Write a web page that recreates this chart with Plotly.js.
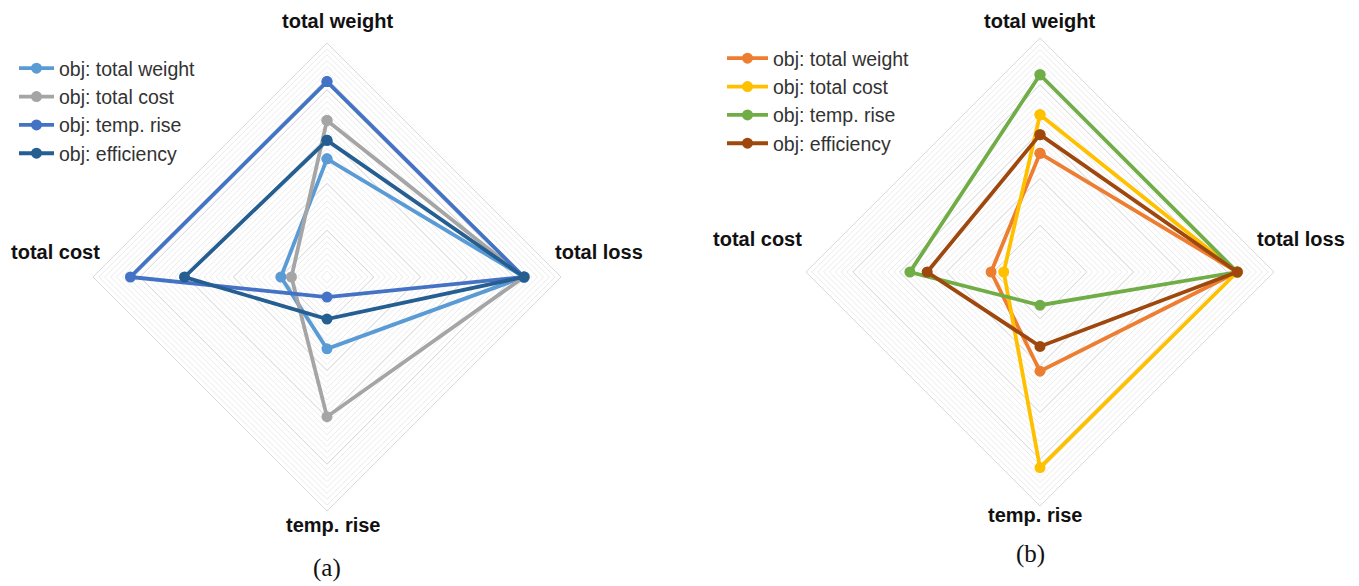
<!DOCTYPE html>
<html>
<head>
<meta charset="utf-8">
<script src="https://cdn.plot.ly/plotly-3.0.1.min.js"></script>
<style>
  html, body { margin: 0; padding: 0; background: #ffffff; }
  #chart { width: 1359px; height: 586px; }
</style>
</head>
<body>
<div id="chart"></div>
<script>
// Radar axes, clockwise from the top
const axes = ['total weight', 'total loss', 'temp. rise', 'total cost'];

// Panel (a): normalised objective values per optimisation target
const namesA = ['obj: total weight', 'obj: total cost', 'obj: temp. rise', 'obj: efficiency'];
const objWeightA = [0.505, 0.842, 0.307, 0.197];
const objCostA   = [0.669, 0.842, 0.597, 0.152];
const objTempA   = [0.835, 0.842, 0.086, 0.840];
const objEffA    = [0.584, 0.842, 0.180, 0.609];
const colorsA = ['#5B9BD5', '#A5A5A5', '#4472C4', '#255E91'];

// Panel (b)
const namesB = ['obj: total weight', 'obj: total cost', 'obj: temp. rise', 'obj: efficiency'];
const objWeightB = [0.507, 0.843, 0.424, 0.209];
const objCostB   = [0.672, 0.843, 0.836, 0.155];
const objTempB   = [0.843, 0.843, 0.142, 0.556];
const objEffB    = [0.587, 0.843, 0.318, 0.482];
const colorsB = ['#ED7D31', '#FFC000', '#70AD47', '#9E480E'];

const W = 1359, H = 586;
const px = x => x / W;
const py = y => 1 - y / H;

function closed(arr) { return arr.concat([arr[0]]); }

function seriesTrace(name, vals, color, subplot, legend) {
  return {
    type: 'scatterpolar',
    subplot: subplot,
    legend: legend,
    legendgroup: legend + name,
    name: name,
    r: closed(vals),
    theta: closed(axes),
    mode: 'lines+markers',
    line: { color: color, width: 3.8 },
    marker: { color: color, size: 11 },
    hoverinfo: 'skip'
  };
}

// invisible carrier so the fine background grid gets its categorical axis
function gridCarrier(subplot) {
  return {
    type: 'scatterpolar', subplot: subplot, r: [0, 0, 0, 0], theta: axes,
    mode: 'markers', marker: { opacity: 0 }, showlegend: false, hoverinfo: 'skip'
  };
}

const traces = [
  gridCarrier('polar'),
  seriesTrace(namesA[0], objWeightA, colorsA[0], 'polar2', 'legend'),
  seriesTrace(namesA[1], objCostA,   colorsA[1], 'polar2', 'legend'),
  seriesTrace(namesA[2], objTempA,   colorsA[2], 'polar2', 'legend'),
  seriesTrace(namesA[3], objEffA,    colorsA[3], 'polar2', 'legend'),
  gridCarrier('polar3'),
  seriesTrace(namesB[0], objWeightB, colorsB[0], 'polar4', 'legend2'),
  seriesTrace(namesB[1], objCostB,   colorsB[1], 'polar4', 'legend2'),
  seriesTrace(namesB[2], objTempB,   colorsB[2], 'polar4', 'legend2'),
  seriesTrace(namesB[3], objEffB,    colorsB[3], 'polar4', 'legend2')
];

const angular = {
  rotation: 90, direction: 'clockwise',
  categoryorder: 'array', categoryarray: axes,
  showgrid: false, showticklabels: false, ticks: '', showline: false
};

function fineGrid(domX, domY) {
  return {
    domain: { x: domX, y: domY },
    bgcolor: '#ffffff',
    gridshape: 'linear',
    radialaxis: { range: [0, 1], tick0: 0, dtick: 0.025, gridcolor: '#ebebeb', gridwidth: 1,
                  showticklabels: false, ticks: '', showline: false },
    angularaxis: angular
  };
}
function mainGrid(domX, domY) {
  return {
    domain: { x: domX, y: domY },
    bgcolor: 'rgba(0,0,0,0)',
    gridshape: 'linear',
    radialaxis: { range: [0, 1], tick0: 0, dtick: 0.2, gridcolor: '#d9d9d9', gridwidth: 1,
                  showticklabels: false, ticks: '', showline: false },
    angularaxis: Object.assign({}, angular, { showline: true, linecolor: '#d9d9d9', linewidth: 1 })
  };
}

const domAx = [px(93), px(561)], domAy = [py(511), py(43)];
const domBx = [px(806), px(1274)], domBy = [py(506), py(38)];

const labelFont = { family: 'Arial, "Liberation Sans", sans-serif', size: 20, color: '#111111', weight: 'bold' };
const capFont = { family: '"Liberation Serif", "Times New Roman", serif', size: 25, color: '#111111' };

function label(text, x, y, font) {
  return { text: text, x: px(x), y: py(y), xref: 'paper', yref: 'paper',
           xanchor: 'center', yanchor: 'middle', showarrow: false, font: font || labelFont };
}

const legendFont = { family: 'Arial, "Liberation Sans", sans-serif', size: 19.5, color: '#333333' };

const layout = {
  width: W, height: H,
  margin: { l: 0, r: 0, t: 0, b: 0 },
  paper_bgcolor: '#ffffff',
  showlegend: true,
  polar: fineGrid(domAx, domAy),
  polar2: mainGrid(domAx, domAy),
  polar3: fineGrid(domBx, domBy),
  polar4: mainGrid(domBx, domBy),
  legend: { x: px(14), y: py(49), xanchor: 'left', yanchor: 'top', font: legendFont,
            bgcolor: 'rgba(255,255,255,0)', tracegroupgap: 0, itemwidth: 35 },
  legend2: { x: px(722), y: py(39), xanchor: 'left', yanchor: 'top', font: legendFont,
             bgcolor: 'rgba(255,255,255,0)', tracegroupgap: 0, itemwidth: 41 },
  annotations: [
    label('total weight', 337, 21),
    label('total loss', 599, 252),
    label('total cost', 55, 252),
    label('temp. rise', 333, 525),
    label('(a)', 327, 568, capFont),
    label('total weight', 1039, 21),
    label('total loss', 1301, 239),
    label('total cost', 757, 239),
    label('temp. rise', 1035, 515),
    label('(b)', 1030, 554, capFont)
  ]
};

Plotly.newPlot('chart', traces, layout, { staticPlot: true, displayModeBar: false });
</script>
</body>
</html>
